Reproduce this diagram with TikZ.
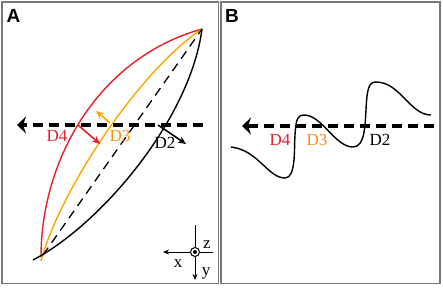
\documentclass[tikz,border=0pt]{standalone}
\usepackage{fontspec}
\setmainfont{Liberation Serif}
\newfontfamily\labfont{Liberation Sans}
\usetikzlibrary{arrows.meta}
\definecolor{myred}{RGB}{232,30,40}
\definecolor{myorange}{RGB}{255,165,0}
\definecolor{myorangetxt}{RGB}{255,140,20}
\definecolor{frame}{RGB}{120,120,120}
\begin{document}
\begin{tikzpicture}[x=1pt,y=-1pt,
  panel/.style={draw=frame,line width=1.3pt},
  plab/.style={font=\labfont\bfseries\fontsize{19}{19}\selectfont,inner sep=0pt},
  dlab/.style={font=\fontsize{17}{17}\selectfont,inner sep=0pt},
  axlab/.style={font=\fontsize{17}{17}\selectfont,inner sep=0pt},
  beam/.style={line width=3.8pt,dash pattern=on 10pt off 6pt,-{Stealth[length=9pt,width=17pt,inset=3pt]}},
  curve/.style={line width=1.4pt},
  vec/.style={line width=1.6pt,-{Stealth[length=8pt,width=7pt]}}]
\useasboundingbox (0,0) rectangle (443,287);
% frames
\draw[panel] (2,2) rectangle (218.5,283.5);
\draw[panel] (221,2) rectangle (440,283.5);
\node[plab] (labA) at (13.5,15.5) {A};
\node[plab] (labB) at (232,15.5) {B};
% panel A
\coordinate (top) at (202,29);
\coordinate (rs) at (41,257);
\coordinate (os) at (41,261);
\coordinate (ds) at (43,255);
\coordinate (bs) at (33,260);
\draw[curve,myred] (rs) .. controls (41,160) and (98,58) .. (top);
\draw[curve,myorange] (os) .. controls (60,190) and (140,70) .. (top);
\draw[line width=1.3pt,dash pattern=on 9pt off 6pt] (ds) -- (top);
\draw[curve] (bs) .. controls (100,225) and (190,120) .. (top);
\coordinate (beamAstart) at (203,125);
\coordinate (beamAend) at (17,125);
\draw[beam] (beamAstart) -- (beamAend);
\coordinate (r0) at (78,125);
\coordinate (r1) at (100,144);
\coordinate (o0) at (110,123);
\coordinate (o1) at (96,111);
\coordinate (k0) at (158,125);
\coordinate (k1) at (186,144);
\draw[vec,myred] (r0) -- (r1);
\draw[vec,myorange] (o0) -- (o1);
\draw[vec] (k0) -- (k1);
\node[dlab,text=myred] (D4a) at (57,136) {D4};
\node[dlab,text=myorangetxt] (D3a) at (120,136) {D3};
\node[dlab] (D2a) at (165,143) {D2};
% axes
\node[circle,draw,line width=1pt,minimum size=9pt,inner sep=0pt] (ax) at (195,252) {};
\fill (ax.center) circle (2pt);
\coordinate (axR) at (213,252);
\coordinate (axX) at (163,252);
\coordinate (axT) at (195,225);
\coordinate (axY) at (195,280);
\draw[line width=1pt] (axR) -- (ax.east);
\draw[line width=1pt,-{Stealth[length=6pt,width=5pt]}] (ax.west) -- (axX);
\draw[line width=1pt] (axT) -- (ax.north);
\draw[line width=1pt,-{Stealth[length=6pt,width=5pt]}] (ax.south) -- (axY);
\node[axlab] (zl) at (207,245) {z};
\node[axlab] (xl) at (178,264) {x};
\node[axlab] (yl) at (206,273) {y};
% panel B
\coordinate (beamBstart) at (434,126);
\coordinate (beamBend) at (242,126);
\draw[beam] (beamBstart) -- (beamBend);
\coordinate (w0) at (231,147);
\coordinate (w1) at (431,115);
\draw[curve] (w0) .. controls (258,150) and (268,178) .. (285,178)
  .. controls (296,178) and (294,150) .. (295,135)
  .. controls (296,118) and (298,115) .. (304,115)
  .. controls (322,115) and (335,147) .. (353,147)
  .. controls (365,147) and (365,125) .. (366,110)
  .. controls (367,88) and (369,82) .. (376,82)
  .. controls (400,82) and (410,115) .. (w1);
\node[dlab,text=myred] (D4b) at (280,140) {D4};
\node[dlab,text=myorangetxt] (D3b) at (317,140) {D3};
\node[dlab] (D2b) at (380,140) {D2};
\end{tikzpicture}
\end{document}
